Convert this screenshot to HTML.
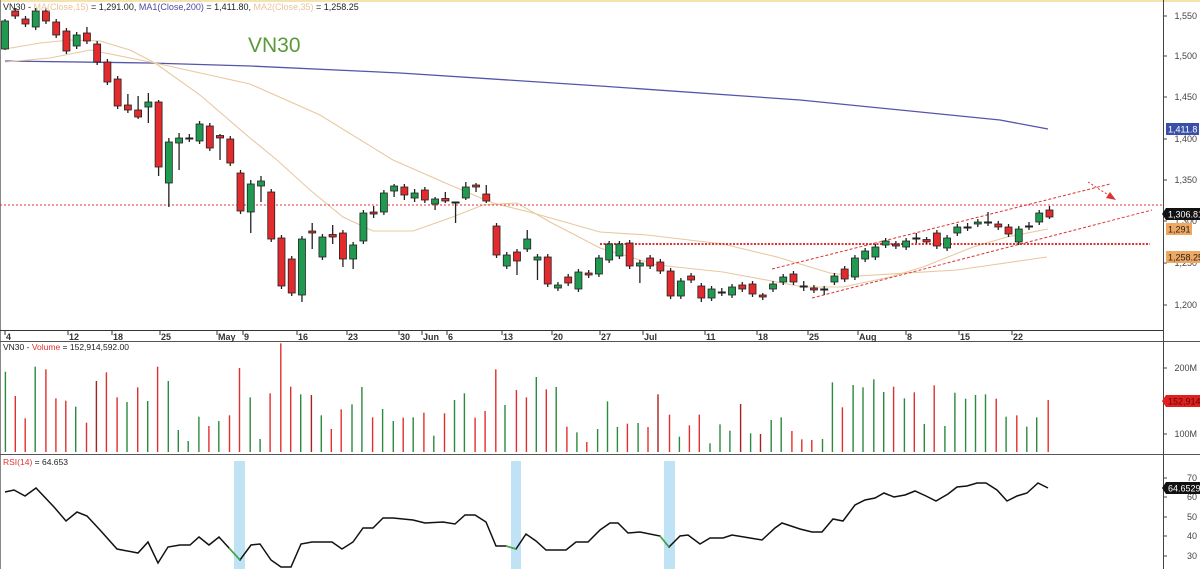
<!DOCTYPE html>
<html><head><meta charset="utf-8"><style>
html,body{margin:0;padding:0;background:#fff;}
svg{display:block;font-family:"Liberation Sans",Arial,sans-serif;}
</style></head><body>
<svg id="c" width="1200" height="569" viewBox="0 0 1200 569" xmlns="http://www.w3.org/2000/svg">
<rect x="0" y="0" width="1200" height="569" fill="#fff"/>
<rect x="0" y="0" width="1200" height="2" fill="#f3e3b0"/>
<line x1="0.5" y1="0" x2="0.5" y2="569" stroke="#888" stroke-width="1"/>
<!-- pane separators -->
<line x1="0" y1="330.5" x2="1163" y2="330.5" stroke="#333" stroke-width="1"/>
<line x1="0" y1="341.5" x2="1200" y2="341.5" stroke="#555" stroke-width="1"/>
<line x1="0" y1="454.5" x2="1200" y2="454.5" stroke="#555" stroke-width="1"/>
<line x1="1163.5" y1="0" x2="1163.5" y2="569" stroke="#444" stroke-width="1"/>
<g id="g"></g>
<!-- header texts -->
<text x="3" y="10" font-size="9" fill="#222">VN30 - <tspan fill="#e9c49a">MA(Close,15)</tspan> = 1,291.00, <tspan fill="#4a4aa0">MA1(Close,200)</tspan> = 1,411.80, <tspan fill="#e9c49a">MA2(Close,35)</tspan> = 1,258.25</text>
<text x="248" y="52" font-size="21" fill="#5a9a3a">VN30</text>
<text x="3" y="350" font-size="8.5" fill="#222">VN30 - <tspan fill="#d33">Volume</tspan> = 152,914,592.00</text>
<text x="3" y="465" font-size="8.5" fill="#222"><tspan fill="#d33">RSI(14)</tspan> =  64.653</text>
</svg>
<script>
var NS="http://www.w3.org/2000/svg",G=document.getElementById('g');
function el(t,a,txt){var e=document.createElementNS(NS,t);for(var k in a)e.setAttribute(k,a[k]);if(txt!=null)e.textContent=txt;G.appendChild(e);return e;}
// RSI blue bars
[[234,245],[511,521],[664,675]].forEach(function(b){el('rect',{x:b[0],y:461,width:b[1]-b[0],height:108,fill:'#bfe3f5'});});
// price axis
[[1550,16],[1500,56],[1450,97],[1400,139],[1350,180],[1300,221],[1250,263],[1200,305]].forEach(function(p){
 el('line',{x1:1163,y1:p[1],x2:1167,y2:p[1],stroke:'#444'});
 el('text',{x:1197,y:p[1]+3,'font-size':9,fill:'#444','text-anchor':'end'},p[0].toLocaleString('en-US'));
});
[['200M',368],['100M',434]].forEach(function(p){el('line',{x1:1163,y1:p[1],x2:1167,y2:p[1],stroke:'#444'});el('text',{x:1197,y:p[1]+3,'font-size':9,fill:'#444','text-anchor':'end'},p[0]);});
[[70,478],[60,497],[50,517],[40,536],[30,556]].forEach(function(p){el('line',{x1:1163,y1:p[1],x2:1167,y2:p[1],stroke:'#444'});el('text',{x:1197,y:p[1]+3,'font-size':9,fill:'#444','text-anchor':'end'},p[0]);});
// date labels
[["'4",5],["'12",68],["'18",112],["'25",160],["May",217],["'9",243],["'16",297],["'23",347],["'30",399],["Jun",422],["'6",447],["'13",502],["'20",552],["'27",600],["Jul",643],["'11",705],["'18",757],["'25",808],["Aug",858],["'8",906],["'15",959],["'22",1012]].forEach(function(d){
 el('line',{x1:d[1],y1:330,x2:d[1],y2:335,stroke:'#333'});
 el('text',{x:d[1]+1,y:340,'font-size':9,'font-weight':'bold',fill:'#333'},d[0].replace("'",""));
});
// MA lines
function pl(pts,c,w,extra){var a={points:pts.map(function(p){return p.join(',')}).join(' '),fill:'none',stroke:c,'stroke-width':w||1};for(var k in extra)a[k]=extra[k];return el('polyline',a);}
pl([[5,61],[150,63],[250,66],[400,73],[600,86],[800,100],[1000,120],[1048,129]],'#5555aa',1.3);
pl([[5,49],[40,43],[70,40],[100,41],[130,50],[155,63],[200,95],[250,138],[277,160],[310,190],[343,217],[373,231],[413,231],[450,218],[483,205],[517,203],[550,222],[600,248],[657,265],[723,272],[777,282],[803,287],[843,287],[890,277],[923,267],[973,247],[1007,237],[1048,229]],'#e8c8a0',1.1);
pl([[5,62],[50,58],[90,50],[155,63],[250,84],[320,115],[393,160],[450,185],[493,203],[533,213],[600,232],[647,235],[723,244],[777,257],[830,273],[857,276],[957,270],[1047,257]],'#e8c8a0',1.1);
// dotted lines
el('line',{x1:0,y1:205,x2:1163,y2:205,stroke:'#d33','stroke-width':1,'stroke-dasharray':'2,2'});
el('line',{x1:600,y1:244,x2:1150,y2:244,stroke:'#d33','stroke-width':2,'stroke-dasharray':'2,1.5'});
el('line',{x1:772,y1:269,x2:1110,y2:184,stroke:'#d33','stroke-width':1,'stroke-dasharray':'3,2'});
el('line',{x1:812,y1:298,x2:1152,y2:210,stroke:'#d33','stroke-width':1,'stroke-dasharray':'3,2'});
el('line',{x1:1088,y1:182,x2:1110,y2:196,stroke:'#d33','stroke-width':1,'stroke-dasharray':'2,2'});
el('polygon',{points:'1116,200 1106,198 1110,192',fill:'#d33'});
// candles
var C=[
['g',21,49,19,50],['r',11,16],['r',19,24],['g',11,27],['r',11,21],['r',22,35],['r',31,51],['g',35,46],['r',33,41,27],['r',44,62],
['r',62,82],['r',79,106],['r',105,110,94,113],['r',110,117,96,119],['g',102,107,93,123],['r',102,167,100,176],['g',142,183,138,207],['g',138,143,133,170],['k',138,139,134,142],['g',124,141],
['r',126,148],['r',136,137,134,160],['r',139,163],['r',173,211],['g',184,212,180,233],['g',181,186,176,202],['r',192,239],['r',238,286],['r',259,293],['g',239,295,236,302],
['r',231,233,223,249],['g',237,257],['r',235,236,225,244],['r',233,259,230,267],['g',245,259,242,269],['g',213,241],['r',212,214,206,218],['g',193,212],['g',186,191,184,197],['r',187,195,184,200],
['g',193,198,189,202],['r',190,200],['g',199,204,197,210],['r',199,200,192,203],['k',202,203,202,223],['g',187,198,182,200],['r',185,187,183,192],['r',194,201,185,203],['r',226,255],['g',255,266],
['r',252,261,249,275],['g',239,249,230,252],['g',257,260,254,280],['r',257,284],['g',285,288],['r',277,283],['g',272,289],['r',273,275],['g',258,274],['g',244,260],
['g',244,256],['r',243,266],['g',263,266,260,283],['r',258,266],['r',262,271],['r',271,296],['g',281,296],['r',276,280],['r',286,298,283,302],['g',289,298],
['k',292,293,288,296],['g',287,295],['r',285,289],['r',284,294],['r',295,297,293,300],['g',284,289],['g',277,282],['r',274,282],['k',286,287,281,291],['r',288,290],
['k',289,290,286,295],['g',276,282],['r',269,279],['g',258,277],['g',251,259],['g',247,257],['g',241,245],['r',244,246],['g',241,247],['k',238,239,233,243],
['r',240,241],['r',233,246],['g',238,248],['g',227,233],['k',227,228,223,231],['g',222,224],['k',222,223,212,226],['r',224,227],['r',227,234],['g',229,242],
['k',226,227,222,230],['g',213,222],['r',210,217,206,219]];
var col={r:'#e32b2e',g:'#1f9a50',k:'#222'};
C.forEach(function(c,i){
 var x=5+10.24*i,t=c[1],b=c[2],wt=c.length>3?c[3]:t-3,wb=c.length>4?c[4]:b+3;
 el('line',{x1:x,y1:wt,x2:x,y2:wb,stroke:'#222','stroke-width':1.3});
 if(c[0]=='k'||b-t<2){el('line',{x1:x-4,y1:t+0.5,x2:x+4,y2:t+0.5,stroke:c[0]=='k'?'#222':'#222','stroke-width':2});
   if(c[0]!='k')el('rect',{x:x-3.5,y:t-0.5,width:7,height:2.5,fill:col[c[0]],stroke:'#222','stroke-width':0.8});}
 else el('rect',{x:x-3.5,y:t,width:7,height:b-t,fill:col[c[0]],stroke:'#222','stroke-width':0.8});
});
// volume
var V=[[7,'g',95],[20,'r',168],[33,'r',235],[46,'g',80],[60,'r',88],[73,'r',175],[86,'r',182],[99,'g',200],[113,'r',248],[126,'d',123],[139,'r',97],[153,'r',172],[166,'g',186],[180,'r',142],[193,'g',183],[206,'r',80],[220,'g',123],[233,'g',270],[246,'g',303],[260,'g',230],[273,'r',258],[286,'g',243],[300,'r',226],[313,'r',84],[327,'g',172],[340,'g',297],[353,'r',160],[367,'r',10],[380,'r',140],[393,'g',163],[407,'d',165],[420,'g',226],[433,'r',267],[446,'r',208],[460,'g',193],[473,'g',141],[487,'r',232],[500,'g',207],[514,'g',243],[527,'r',233],[540,'g',232],[554,'r',218],[567,'g',287],[581,'r',220],[594,'g',180],[607,'g',160],[621,'r',233],[634,'r',213],[648,'r',88],[660,'g',195],[675,'r',150],[688,'r',172],[701,'g',111],[714,'r',148],[727,'g',141],[741,'r',260],[754,'g',277],[767,'r',306],[781,'g',267],[794,'g',184],[807,'g',261],[820,'r',251],[834,'g',249],[847,'r',261],[860,'d',163],[875,'r',224],[888,'g',290],[901,'r',256],[914,'r',224],[928,'g',310],[941,'g',253],[954,'g',272],[968,'d',192],[981,'g',280],[994,'d',282],[1008,'g',240],[1021,'g',232],[1035,'r',273],[1048,'r',298],[1061,'r',300],[1075,'g',297],[1088,'g',127],[1101,'r',202],[1115,'g',135],[1128,'g',142],[1142,'g',118],[1155,'g',156],[1168,'r',140],[1182,'g',175],[1195,'r',157],[1208,'g',252],[1221,'r',136],[1235,'g',258],[1248,'g',158],[1262,'g',176],[1275,'g',165],[1288,'g',163],[1302,'r',176],[1315,'g',230],[1329,'r',226],[1342,'g',260],[1355,'g',232],[1370,'r',180]];
var vc={r:'#e0302e',g:'#2a8a3e',d:'#a82020'};
V.forEach(function(v){var x=(v[0]/1.307).toFixed(1);el('line',{x1:x,y1:340+v[2]/3,x2:x,y2:452,stroke:vc[v[1]],'stroke-width':1.4});});
// RSI
var R=[[5,492],[14,490],[25,496],[36,488],[54,507],[66,521],[77,512],[87,516],[100,530],[117,549],[138,553],[148,542],[158,563],[168,547],[180,545],[190,545],[199,537],[209,545],[219,537],[229,548],[240,560],[251,545],[260,544],[271,560],[281,567],[291,567],[301,544],[312,542],[332,542],[342,549],[353,542],[363,528],[373,528],[383,518],[393,518],[413,520],[425,523],[443,522],[455,524],[465,515],[475,515],[486,522],[496,546],[506,546],[516,549],[526,534],[536,541],[546,550],[566,550],[576,542],[588,542],[600,530],[610,523],[618,523],[628,533],[640,532],[660,536],[669,547],[680,536],[688,535],[700,544],[710,538],[723,538],[732,535],[750,538],[762,540],[775,528],[782,523],[800,529],[812,532],[822,532],[833,519],[843,521],[855,505],[865,500],[875,498],[884,493],[894,497],[905,495],[915,491],[926,496],[936,501],[948,494],[957,487],[967,486],[977,483],[986,483],[997,490],[1007,501],[1017,496],[1027,493],[1038,483],[1048,488]];
pl(R,'#111',1.5);
pl([[229,548],[240,560]],'#3cb043',1.5);pl([[506,546],[516,549]],'#3cb043',1.5);pl([[660,536],[669,547]],'#3cb043',1.5);
// value boxes
function box(y,w,txt,bg,fg,arrow){var x=1166;if(arrow){el('polygon',{points:(x-4)+','+y+' '+x+','+(y-6)+' 1200,'+(y-6)+' 1200,'+(y+6)+' '+x+','+(y+6),fill:bg});}else el('rect',{x:x,y:y-6,width:w,height:12,fill:bg});el('text',{x:x+2,y:y+3.5,'font-size':9,fill:fg},txt);}
box(129,33,'1,411.8','#3a4fa8','#fff');
box(214,0,'1,306.81','#111','#fff',true);
box(229,26,'1,291','#f0a860','#222');
box(257,34,'1,258.25','#f0a860','#222');
box(401,0,'152,914,5','#e02020','#600',true);
box(488,0,'64.6529','#111','#fff',true);
</script>
</body></html>
